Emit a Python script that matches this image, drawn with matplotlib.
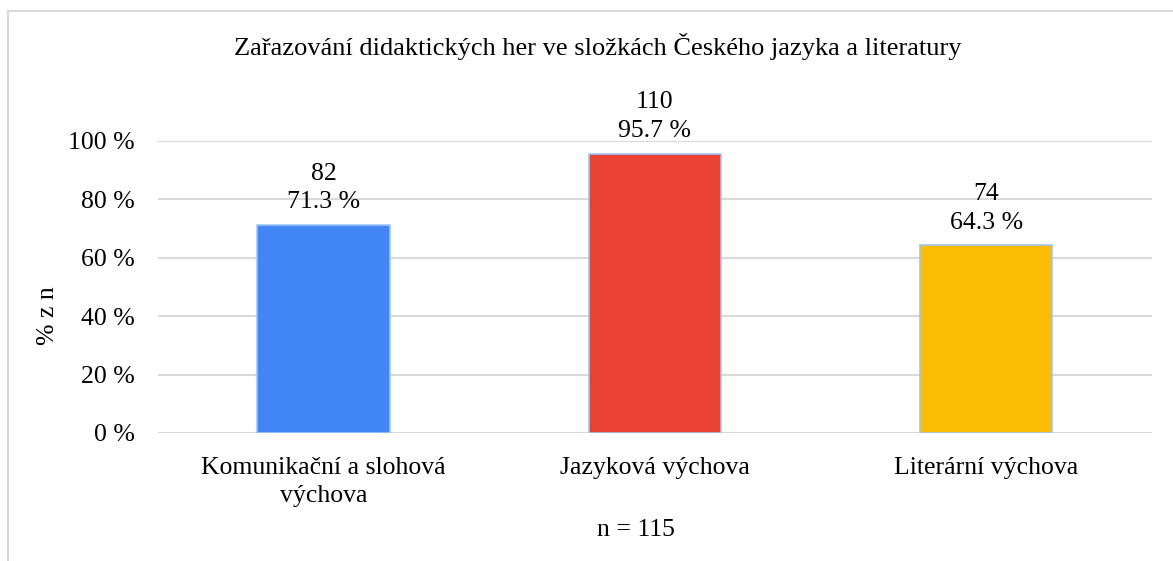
import matplotlib
matplotlib.use('Agg')
import matplotlib.pyplot as plt
import numpy as np
from matplotlib.patches import Rectangle

plt.rcParams['font.family'] = ['Liberation Serif', 'DejaVu Serif']

categories = ['Komunikační a slohová\nvýchova', 'Jazyková výchova', 'Literární výchova']
counts = [82, 110, 74]
percents = [71.3, 95.7, 64.3]
colors = ['#4285F4', '#EA4335', '#FBBC04']
n_total = 115

fs = 18.5
fig = plt.figure(figsize=(11.73, 5.61), dpi=100)
ax = fig.add_axes([0.1347, 0.2282, 0.8473, 0.5205])

# chart frame (cropped on the right and bottom like the original)
fig.patches.append(Rectangle((8 / 1173, -0.05), 1.1, 1 - 11 / 561 + 0.05,
                             transform=fig.transFigure, fill=False,
                             edgecolor='#D9D9D9', linewidth=1.5))

x = np.arange(len(categories))
bars = ax.bar(x, percents, width=0.40, color=colors, edgecolor='#9FC5F8', linewidth=1.2, zorder=3)

for bar, c, p in zip(bars, counts, percents):
    ax.text(bar.get_x() + bar.get_width() / 2, p + 4.0, f'{c}\n{p:.1f} %',
            ha='center', va='bottom', fontsize=fs, linespacing=1.38, clip_on=False)

ax.set_xlim(-0.5, 2.5)
ax.set_ylim(0, 100)
ax.set_yticks(np.arange(0, 101, 20))
ax.set_yticklabels([f'{v} %' for v in range(0, 101, 20)], fontsize=fs)
ax.set_xticks(x)
ax.set_xticklabels(categories, fontsize=fs, linespacing=1.38)
ax.tick_params(axis='y', length=0, pad=16.5)
ax.tick_params(axis='x', length=0, pad=17)
ax.grid(axis='y', color='#D9D9D9', linewidth=1.5, zorder=0)
for s in ax.spines.values():
    s.set_visible(False)

fig.text(48 / 1173, 1 - 316 / 561, '% z n', rotation=90, ha='center', va='center', fontsize=fs)
fig.text(636 / 1173, 1 - 530 / 561, f'n = {n_total}', ha='center', va='center', fontsize=fs)
fig.text(598 / 1173, 1 - 47 / 561, 'Zařazování didaktických her ve složkách Českého jazyka a literatury',
         ha='center', va='center', fontsize=19)

fig.savefig('out.png', dpi=100)
